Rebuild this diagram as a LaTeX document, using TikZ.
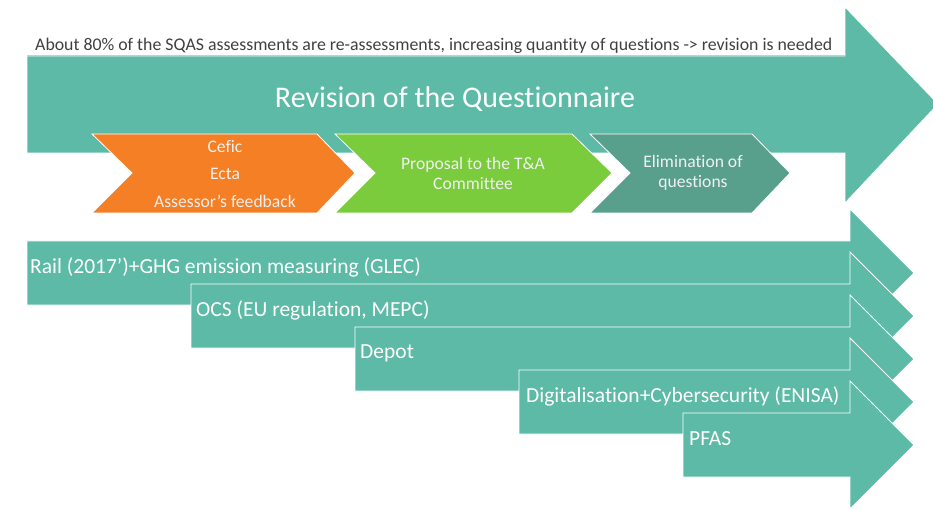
\documentclass[tikz,border=0pt]{standalone}
\usepackage{fontspec}
\setmainfont[Ligatures=NoCommon]{Carlito}
\usetikzlibrary{positioning}

\definecolor{bandteal}{HTML}{5CBAA6}
\definecolor{stepone}{HTML}{F47F24}
\definecolor{steptwo}{HTML}{7ACC3D}
\definecolor{stepthree}{HTML}{58A08C}
\definecolor{notegray}{HTML}{404040}

\begin{document}
\begin{tikzpicture}[x=1pt, y=-1pt,
	band/.style={fill=bandteal, draw=white, line width=0.8pt},
	stepbox/.style={draw=white, line width=0.8pt},
	bandtext/.style={text=white, font=\fontsize{21.5}{24}\selectfont, anchor=west, inner sep=0pt},
	steptext/.style={text=white!94!black, font=\fontsize{17.6}{20}\selectfont, align=center, inner sep=0pt}
]
	\useasboundingbox (0, 0) rectangle (933, 510);
	\clip (0, 0) rectangle (933, 510);

	% big arrow with the questionnaire revision
	\filldraw[band]
		(27, 56) -- (845, 56) -- (845, 7) -- (938, 104) --
		(845, 203) -- (845, 153) -- (27, 153) -- cycle;
	\draw[gray!40] (27, 55) -- (845, 55);
	\node[text=notegray, font=\fontsize{17.8}{20}\selectfont, anchor=west, inner sep=0pt]
		(note) at (35, 46) {About 80\% of the SQAS assessments are re-assessments, increasing quantity of questions -> revision is needed};
	\node[text=white, font=\fontsize{30}{34}\selectfont] (title) at (455, 99) {Revision of the Questionnaire};

	% steps
	\filldraw[stepbox, fill=stepone]
		(92, 134) -- (317, 134) -- (355, 173) -- (317, 213) -- (92, 213) -- (132, 173) -- cycle;
	\filldraw[stepbox, fill=steptwo]
		(335, 134) -- (572, 134) -- (612, 173) -- (572, 213) -- (335, 213) -- (375, 173) -- cycle;
	\filldraw[stepbox, fill=stepthree]
		(590, 134) -- (752, 134) -- (790, 173) -- (752, 213) -- (590, 213) -- (630, 173) -- cycle;

	\node[steptext] (cefic) at (225, 147) {Cefic};
	\node[steptext] (ecta) at (225, 174) {Ecta};
	\node[steptext] (feedback) at (225, 201) {Assessor’s feedback};
	\node[steptext] (proposal) at (473, 173) {Proposal to the T\&A\\Committee};
	\node[steptext] (elimination) at (693, 173) {Elimination of\\questions};

	% topics
	\filldraw[band]
		(27, 241) -- (850, 241) -- (850, 209) -- (914, 273) --
		(850, 337) -- (850, 305) -- (27, 305) -- cycle;
	\filldraw[band]
		(191, 284) -- (850, 284) -- (850, 252) -- (914, 316) --
		(850, 380) -- (850, 348) -- (191, 348) -- cycle;
	\filldraw[band]
		(355, 327) -- (850, 327) -- (850, 295) -- (914, 359) --
		(850, 423) -- (850, 391) -- (355, 391) -- cycle;
	\filldraw[band]
		(519, 370) -- (850, 370) -- (850, 338) -- (914, 402) --
		(850, 466) -- (850, 434) -- (519, 434) -- cycle;
	\filldraw[band]
		(683, 413) -- (850, 413) -- (850, 381) -- (914, 445) --
		(850, 509) -- (850, 477) -- (683, 477) -- cycle;

	\node[bandtext] (rail) at (30, 267) {Rail (2017’)+GHG emission measuring (GLEC)};
	\node[bandtext] (ocs) at (196, 310) {OCS (EU regulation, MEPC)};
	\node[bandtext] (depot) at (360, 353) {Depot};
	\node[bandtext] (digital) at (526, 396) {Digitalisation+Cybersecurity (ENISA)};
	\node[bandtext] (pfas) at (689, 439) {PFAS};
\end{tikzpicture}
\end{document}
